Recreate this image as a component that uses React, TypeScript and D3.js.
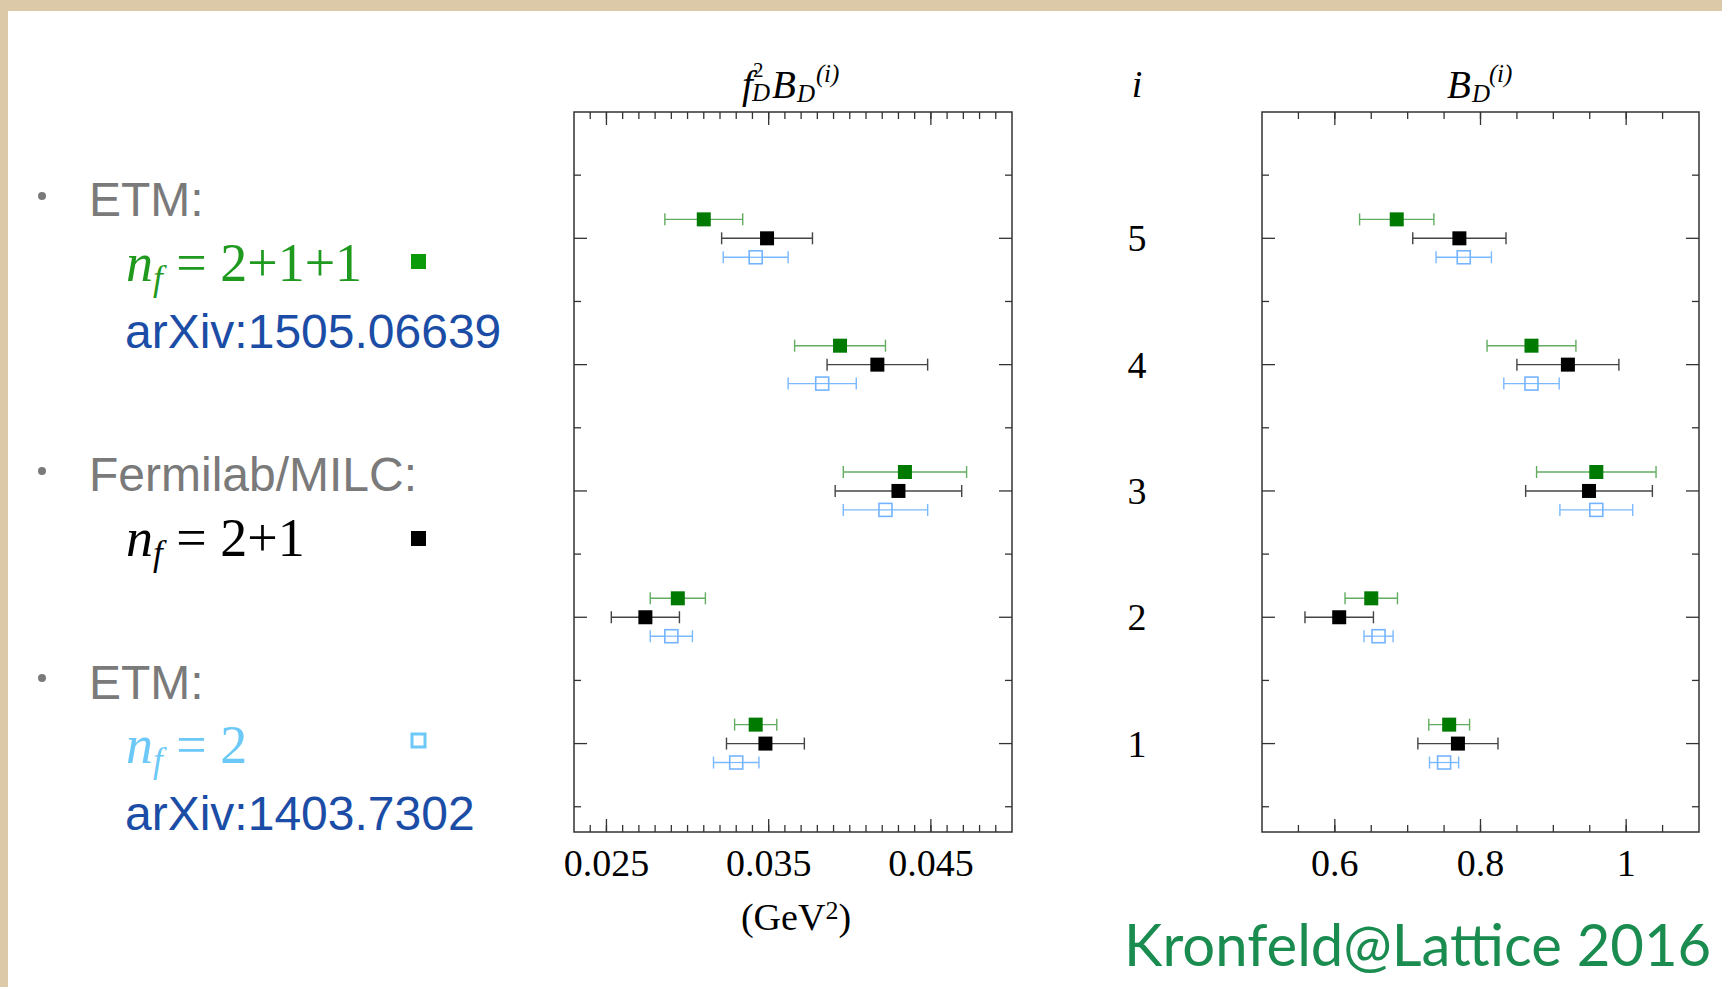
import React, { useRef, useEffect } from 'react';
import * as d3 from 'd3';

// operator index i = 1..5
const indices = [1, 2, 3, 4, 5];

// f_D^2 B_D^(i)  (GeV^2)
const fdbdNf211 = [0.0342, 0.0294, 0.0434, 0.0394, 0.0310];
const fdbdNf211Err = [0.0013, 0.0017, 0.0038, 0.0028, 0.0024];
const fdbdNf21 = [0.0348, 0.0274, 0.0430, 0.0417, 0.0349];
const fdbdNf21Err = [0.0024, 0.0021, 0.0039, 0.0031, 0.0028];
const fdbdNf2 = [0.0330, 0.0290, 0.0422, 0.0383, 0.0342];
const fdbdNf2Err = [0.0014, 0.0013, 0.0026, 0.0021, 0.0020];

// B_D^(i)
const bdNf211 = [0.757, 0.650, 0.959, 0.870, 0.685];
const bdNf211Err = [0.028, 0.036, 0.082, 0.061, 0.051];
const bdNf21 = [0.769, 0.606, 0.949, 0.920, 0.771];
const bdNf21Err = [0.055, 0.047, 0.087, 0.070, 0.064];
const bdNf2 = [0.750, 0.660, 0.959, 0.870, 0.777];
const bdNf2Err = [0.020, 0.020, 0.050, 0.038, 0.038];

const leftTickLabels = ['0.025', '0.035', '0.045'];
const rightTickLabels = ['0.6', '0.8', '1'];

const W = 1722, H = 987;
const SERIF = '"Liberation Serif", "Times New Roman", serif';
const SANS = '"Liberation Sans", Arial, sans-serif';

const seriesStyle = [
  { key: 'nf211', dy: 0.15, fill: '#007a00', stroke: '#007a00', bar: '#62ad62', open: false },
  { key: 'nf21', dy: 0, fill: '#000', stroke: '#000', bar: '#444', open: false },
  { key: 'nf2', dy: -0.15, fill: 'none', stroke: '#74b4ff', bar: '#7ab8ff', open: true },
];

const App = () => {
  const svgRef = useRef();

  useEffect(() => {
    const svg = d3.select(svgRef.current);
    svg.selectAll('*').remove();

    // slide background
    svg.append('rect').attr('width', W).attr('height', H).attr('fill', '#dbc9a7');
    svg.append('rect').attr('x', 8).attr('y', 11).attr('width', W - 8).attr('height', H - 11).attr('fill', '#fff');

    const y = d3.scaleLinear().domain([0.3, 6.0]).range([832, 112]);

    const drawPanel = (x, major, minor, labels, vals, errs) => {
      const [x0, x1] = x.range();
      const [y0, y1] = y.range();
      const g = svg.append('g');
      const ax = '#333';
      g.append('rect').attr('x', x0).attr('y', y1).attr('width', x1 - x0).attr('height', y0 - y1)
        .attr('fill', 'none').attr('stroke', ax).attr('stroke-width', 1.5);

      const tick = (v, len) => {
        g.append('line').attr('x1', x(v)).attr('x2', x(v)).attr('y1', y0).attr('y2', y0 - len).attr('stroke', ax).attr('stroke-width', 1.3);
        g.append('line').attr('x1', x(v)).attr('x2', x(v)).attr('y1', y1).attr('y2', y1 + len).attr('stroke', ax).attr('stroke-width', 1.3);
      };
      minor.forEach(v => tick(v, 7));
      major.forEach(v => tick(v, 13));

      const ytick = (v, len) => {
        g.append('line').attr('x1', x0).attr('x2', x0 + len).attr('y1', y(v)).attr('y2', y(v)).attr('stroke', ax).attr('stroke-width', 1.3);
        g.append('line').attr('x1', x1).attr('x2', x1 - len).attr('y1', y(v)).attr('y2', y(v)).attr('stroke', ax).attr('stroke-width', 1.3);
      };
      indices.forEach(i => { ytick(i, 13); ytick(i + 0.5, 7); });
      ytick(0.5, 7);

      major.forEach((v, k) => {
        g.append('text').attr('x', x(v)).attr('y', 876).attr('text-anchor', 'middle')
          .attr('font-family', SERIF).attr('font-size', 38).attr('fill', '#000').text(labels[k]);
      });

      seriesStyle.forEach((s, si) => {
        indices.forEach((i, k) => {
          const cy = y(i + s.dy);
          const v = vals[si][k], e = errs[si][k];
          g.append('line').attr('x1', x(v - e)).attr('x2', x(v + e)).attr('y1', cy).attr('y2', cy)
            .attr('stroke', s.bar).attr('stroke-width', 1.4);
          [v - e, v + e].forEach(ev => {
            g.append('line').attr('x1', x(ev)).attr('x2', x(ev)).attr('y1', cy - 6).attr('y2', cy + 6)
              .attr('stroke', s.bar).attr('stroke-width', 1.4);
          });
          if (s.open) {
            g.append('rect').attr('x', x(v) - 6.5).attr('y', cy - 6.5).attr('width', 13).attr('height', 13)
              .attr('fill', '#fff').attr('stroke', s.stroke).attr('stroke-width', 1.6);
            g.append('line').attr('x1', x(v) - 6.5).attr('x2', x(v) + 6.5).attr('y1', cy).attr('y2', cy)
              .attr('stroke', s.bar).attr('stroke-width', 1.2);
          } else {
            g.append('rect').attr('x', x(v) - 7).attr('y', cy - 7).attr('width', 14).attr('height', 14)
              .attr('fill', s.fill);
          }
        });
      });
    };

    const xLeft = d3.scaleLinear().domain([0.023, 0.050]).range([574, 1012]);
    const leftMinor = d3.range(24, 50).map(d => d / 1000);
    const leftMajor = [0.025, 0.035, 0.045];
    drawPanel(xLeft, leftMajor, leftMinor, leftTickLabels,
      [fdbdNf211, fdbdNf21, fdbdNf2], [fdbdNf211Err, fdbdNf21Err, fdbdNf2Err]);

    const xRight = d3.scaleLinear().domain([0.5, 1.1]).range([1262, 1699]);
    const rightMinor = d3.range(11, 22).map(d => d * 0.05);
    const rightMajor = [0.6, 0.8, 1.0];
    drawPanel(xRight, rightMajor, rightMinor, rightTickLabels,
      [bdNf211, bdNf21, bdNf2], [bdNf211Err, bdNf21Err, bdNf2Err]);

    // index labels between panels
    svg.append('text').attr('x', 1137).attr('y', 97).attr('text-anchor', 'middle')
      .attr('font-family', SERIF).attr('font-style', 'italic').attr('font-size', 38).text('i');
    indices.forEach(i => {
      svg.append('text').attr('x', 1137).attr('y', y(i) + 13).attr('text-anchor', 'middle')
        .attr('font-family', SERIF).attr('font-size', 38).text(i);
    });

    // titles
    const it = (xx, yy, size, str, italic = true) =>
      svg.append('text').attr('x', xx).attr('y', yy).attr('font-family', SERIF)
        .attr('font-style', italic ? 'italic' : 'normal').attr('font-size', size).attr('fill', '#000').text(str);
    it(742, 98, 39, 'f');
    it(753, 77, 21, '2', false);
    it(752, 101, 25, 'D');
    it(772, 98, 39, 'B');
    it(797, 102, 25, 'D');
    it(816, 82, 25, '(');
    it(824, 82, 25, 'i');
    it(831, 82, 25, ')');

    it(1447, 98, 39, 'B');
    it(1472, 102, 25, 'D');
    it(1489, 82, 25, '(');
    it(1497, 82, 25, 'i');
    it(1504, 82, 25, ')');

    const gev = svg.append('text').attr('x', 796).attr('y', 930).attr('text-anchor', 'middle')
      .attr('font-family', SERIF).attr('font-size', 38);
    gev.append('tspan').text('(GeV');
    gev.append('tspan').attr('font-size', 26).attr('dy', -11).text('2');
    gev.append('tspan').attr('dy', 11).text(')');

    // legend
    const gray = '#7a7a7a';
    [196, 471, 678].forEach(cy => svg.append('circle').attr('cx', 42).attr('cy', cy).attr('r', 4).attr('fill', gray));
    const sans = (xx, yy, str, color) => svg.append('text').attr('x', xx).attr('y', yy)
      .attr('font-family', SANS).attr('font-size', 48).attr('fill', color).text(str);
    sans(89, 216, 'ETM:', gray);
    sans(89, 491, 'Fermilab/MILC:', gray);
    sans(89, 699, 'ETM:', gray);
    sans(125, 348, 'arXiv:1505.06639', '#1b4da6');
    sans(125, 830, 'arXiv:1403.7302', '#1b4da6');

    const nf = (yy, rhs, color) => {
      const t = svg.append('text').attr('x', 126).attr('y', yy).attr('font-family', SERIF)
        .attr('font-size', 54).attr('fill', color);
      t.append('tspan').attr('font-style', 'italic').text('n');
      t.append('tspan').attr('font-style', 'italic').attr('font-size', 35).attr('dy', 9).text('f');
      t.append('tspan').attr('dy', -9).text(' = ' + rhs);
    };
    nf(281, '2+1+1', '#1f9a1f');
    nf(556, '2+1', '#000');
    nf(763, '2', '#6cc9f7');

    svg.append('rect').attr('x', 411).attr('y', 254).attr('width', 15).attr('height', 15).attr('fill', '#0a9a0a');
    svg.append('rect').attr('x', 411).attr('y', 531).attr('width', 15).attr('height', 15).attr('fill', '#000');
    svg.append('rect').attr('x', 412).attr('y', 734).attr('width', 13).attr('height', 13)
      .attr('fill', 'none').attr('stroke', '#6cc9f7').attr('stroke-width', 3);

    svg.append('text').attr('x', 1124).attr('y', 966).attr('font-family', 'Lato, sans-serif')
      .attr('font-size', 58).attr('fill', '#1a8c50').text('Kronfeld@Lattice 2016');
  }, []);

  return (
    <svg ref={svgRef} width={W} height={H}
      style={{ position: 'absolute', left: 0, top: 0, display: 'block' }} />
  );
};

export default App;
